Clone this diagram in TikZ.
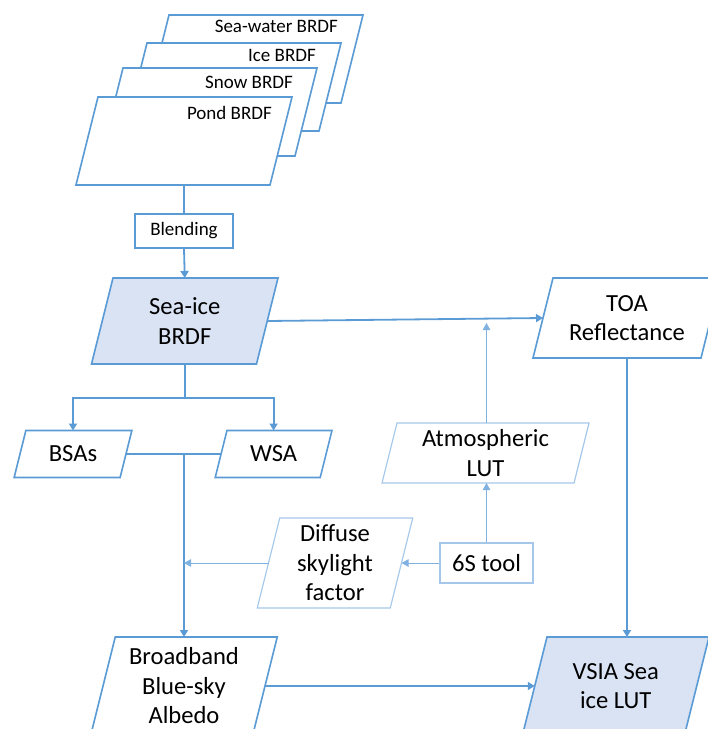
\documentclass[tikz,border=0pt]{standalone}
\usepackage{fontspec}
\setmainfont{Carlito}
\usetikzlibrary{arrows.meta,calc}
\definecolor{mainblue}{HTML}{5B9BD5}
\definecolor{lightblue}{HTML}{A5C8EA}
\definecolor{fillblue}{HTML}{DAE3F3}
\definecolor{thinline}{HTML}{80B2E1}
\newcommand\bigtext{\fontsize{24.6}{29.5}\selectfont}
\newcommand\smalltext{\fontsize{19}{22}\selectfont}
% name, cx, cy, w, h, path style, text
\newcommand\paraN[7]{%
  \path[#6] ({#2-#4/2+#5/8},{#3-#5/2}) -- ({#2+#4/2+#5/8},{#3-#5/2})
     -- ({#2+#4/2-#5/8},{#3+#5/2}) -- ({#2-#4/2-#5/8},{#3+#5/2}) -- cycle;
  \node[pbox,minimum width=#4pt,minimum height=#5pt] (#1) at (#2,#3) {#7};
}
\begin{document}
\begin{tikzpicture}[x=1pt,y=-1pt,
  pbox/.style={inner sep=0pt,outer sep=0pt,align=center,font=\bigtext,text=black},
  mainshape/.style={draw=mainblue,line width=1.6pt,fill=white},
  seashape/.style={draw=mainblue,line width=1.6pt,fill=fillblue},
  lightshape/.style={draw=lightblue,line width=1.2pt,fill=white},
  brdflabel/.style={inner sep=0pt,anchor=base east,font=\smalltext,text=black},
  mainline/.style={draw=mainblue,line width=2pt},
  mainarrow/.style={draw=mainblue,line width=1.8pt,-{Triangle[length=7pt,width=8pt]}},
  thinarrow/.style={draw=thinline,line width=1pt,-{Triangle[length=7pt,width=7.5pt]}},
  ]
\useasboundingbox (0,0) rectangle (708,729);
\clip (0,0) rectangle (708,729);

% stacked BRDF layers
\paraN{sw}{255}{59}{194}{88}{mainshape}{}
\node[brdflabel] (swt) at (338,32) {Sea-water BRDF};
\paraN{ice}{233}{87}{194}{88}{mainshape}{}
\node[brdflabel] (icet) at (316,61) {Ice BRDF};
\paraN{snow}{209}{112}{194}{88}{mainshape}{}
\node[brdflabel] (snowt) at (293,88) {Snow BRDF};
\paraN{pond}{184}{141}{194}{88}{mainshape}{}
\node[brdflabel] (pondt) at (272,119) {Pond BRDF};

% blending
\node[draw=mainblue,line width=1.6pt,fill=white,inner sep=0pt,minimum width=98pt,
  minimum height=34pt,font=\smalltext] (blend) at (184,231) {Blending};

% main boxes
\paraN{sea}{184.75}{321}{165}{86}{seashape}{Sea-ice\\BRDF}
\paraN{toa}{627}{318}{168}{80}{mainshape}{TOA\\Reflectance}
\paraN{bsa}{73}{454}{106}{47}{mainshape}{BSAs}
\paraN{wsa}{273.6}{454}{105}{47}{mainshape}{WSA}
\paraN{atm}{485.5}{453}{192}{60}{lightshape}{Atmospheric\\LUT}
\paraN{dif}{335}{563}{133}{90}{lightshape}{Diffuse\\skylight\\factor}
\node[draw=lightblue,line width=1.2pt,fill=white,inner sep=0pt,minimum width=93pt,
  minimum height=40pt,font=\bigtext] (six) at (486.5,563) {6S tool};
\paraN{bb}{184}{686}{162}{98}{mainshape}{Broadband\\Blue-sky\\Albedo}
\paraN{vsia}{615.75}{686}{162}{98}{seashape}{VSIA Sea\\ice LUT}

% helper coordinates
\coordinate (fork) at (184.75,398);
\coordinate (merge) at (184,454);
\coordinate (atmtip) at (486.5,323);

% connectors
\draw[mainline] (pond.south) -- (blend.north);
\draw[mainarrow] (blend.south) -- (sea.north);
\draw[mainline] (sea.south) -- (fork);
\draw[mainarrow] (fork) -| (bsa.north);
\draw[mainarrow] (fork) -| (wsa.north);
\draw[mainarrow] (sea.east) -- (toa.west);
\draw[mainline] (bsa.east) -- (wsa.west);
\draw[mainarrow] (merge) -- (bb.north);
\draw[thinarrow] (dif.west) -- (dif.west -| merge);
\draw[thinarrow] (six.west) -- (dif.east);
\draw[thinarrow] (six.north) -- (six.north |- atm.south);
\draw[thinarrow] (atm.north -| atmtip) -- (atmtip);
\draw[mainarrow] (toa.south) -- (toa.south |- vsia.north);
\draw[mainarrow] (bb.east) -- (vsia.west);
\end{tikzpicture}
\end{document}
